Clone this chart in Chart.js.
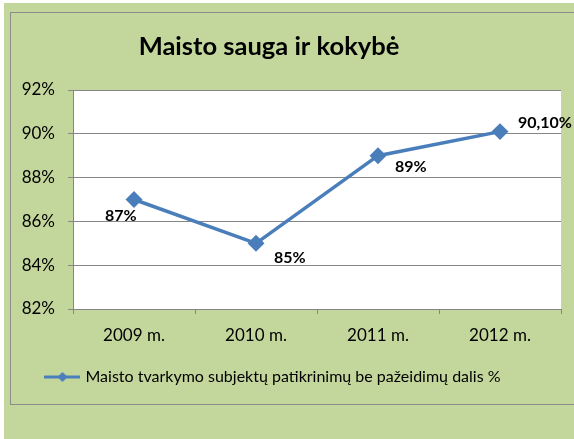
<!DOCTYPE html>
<html>
<head>
<meta charset="utf-8">
<script src="https://cdn.jsdelivr.net/npm/chart.js@4"></script>
<style>
  html, body { margin: 0; padding: 0; background: #ffffff; width: 574px; height: 439px; overflow: hidden; position: relative; }
  #bg { position: absolute; left: 4px; top: 3px; width: 570px; height: 436px; background: #c3d69b; }
  #frame { position: absolute; left: 10px; top: 12px; width: 564px; height: 393px; border: 1px solid #8c8c8c; border-right: none; box-sizing: border-box; }
  #clip { position: absolute; left: 0; top: 0; width: 574px; height: 439px; overflow: hidden; }
  #wrap { position: absolute; left: 0; top: 0; width: 574px; height: 439px; }
</style>
</head>
<body>
<div id="clip"><div id="bg"></div><div id="frame"></div></div>
<div id="wrap"><canvas id="c" width="574" height="439"></canvas></div>
<script>
const categories = ['2009 m.', '2010 m.', '2011 m.', '2012 m.'];
const values = [87, 85, 89, 90.1];
const valueLabels = ['87%', '85%', '89%', '90,10%'];
const yTicks = [82, 84, 86, 88, 90, 92];
const seriesName = 'Maisto tvarkymo subjektų patikrinimų be pažeidimų dalis %';
const titleText = 'Maisto sauga ir kokybė';

const BLUE = '#4a7ebb';
const GRID = '#868686';
const FONT = 'Lato, "Open Sans", sans-serif';

// legend marker: line with a diamond
const marker = document.createElement('canvas');
marker.width = 36; marker.height = 12;
(function () {
  const m = marker.getContext('2d');
  m.strokeStyle = BLUE; m.lineWidth = 3; m.lineCap = 'round';
  m.beginPath(); m.moveTo(1, 6); m.lineTo(35, 6); m.stroke();
  m.fillStyle = BLUE;
  m.beginPath(); m.moveTo(18, 1); m.lineTo(23, 6); m.lineTo(18, 11); m.lineTo(13, 6); m.closePath(); m.fill();
})();

const plotBg = {
  id: 'plotBg',
  beforeDraw(chart) {
    const a = chart.chartArea, ctx = chart.ctx;
    ctx.save(); ctx.fillStyle = '#ffffff';
    ctx.fillRect(a.left, a.top, a.right - a.left, a.bottom - a.top);
    ctx.restore();
  }
};

const shiftBlocks = {
  id: 'shiftBlocks',
  afterLayout(chart) {
    const centres = [[chart.titleBlock, 269], [chart.legend, 274]];
    centres.forEach(([b, centre]) => {
      if (!b) return;
      const w = b.right - b.left;
      b.left = centre - w / 2; b.right = centre + w / 2;
    });
  }
};

// label placement (dx, dy) relative to each point
const labelPlace = [[-29, 16], [18, 15], [17, 11], [18, -9]];
const dataLabels = {
  id: 'dataLabels',
  afterDatasetsDraw(chart) {
    const ctx = chart.ctx;
    const meta = chart.getDatasetMeta(0);
    ctx.save();
    ctx.font = 'bold 16px ' + FONT;
    ctx.fillStyle = '#000000';
    ctx.textAlign = 'left';
    ctx.textBaseline = 'middle';
    meta.data.forEach((pt, i) => {
      const p = labelPlace[i];
      ctx.fillText(valueLabels[i], pt.x + p[0], pt.y + p[1]);
    });
    ctx.restore();
  }
};

new Chart(document.getElementById('c'), {
  type: 'line',
  data: {
    labels: categories,
    datasets: [{
      label: seriesName,
      data: values,
      borderColor: BLUE,
      backgroundColor: BLUE,
      borderWidth: 3.5,
      pointStyle: 'rectRot',
      pointRadius: 6,
      pointHoverRadius: 6,
      tension: 0,
      fill: false
    }]
  },
  options: {
    responsive: false,
    animation: false,
    layout: { padding: { left: 14, right: 13, top: 0, bottom: 44 } },
    plugins: {
      tooltip: { enabled: false },
      title: {
        display: true,
        text: titleText,
        color: '#000000',
        font: { family: FONT, size: 25.5, weight: 'bold', lineHeight: 1.2 },
        padding: { top: 31.5, bottom: 27.9 }
      },
      legend: {
        display: true,
        position: 'bottom',
        labels: {
          color: '#000000',
          font: { family: FONT, size: 16 },
          usePointStyle: true,
          pointStyleWidth: 30,
          padding: 10,
          generateLabels(chart) {
            return [{
              text: seriesName,
              pointStyle: marker,
              fillStyle: BLUE,
              strokeStyle: BLUE,
              lineWidth: 0,
              hidden: false,
              datasetIndex: 0
            }];
          }
        }
      }
    },
    scales: {
      x: {
        type: 'category',
        offset: true,
        afterFit(s) { s.height = 50; },
        grid: { offset: true, drawOnChartArea: false, drawTicks: true, tickLength: 5, color: GRID },
        border: { color: GRID, width: 1 },
        ticks: { color: '#000000', font: { family: FONT, size: 17 }, padding: 11, maxRotation: 0 }
      },
      y: {
        min: 82, max: 92,
        afterFit(s) { s.width = 59; },
        afterBuildTicks(s) { s.ticks = yTicks.map(v => ({ value: v })); },
        grid: { color: GRID, tickLength: 5, drawTicks: true },
        border: { color: GRID, width: 1 },
        ticks: {
          color: '#000000',
          font: { family: FONT, size: 17 },
          padding: 13,
          callback: v => v + '%'
        }
      }
    }
  },
  plugins: [plotBg, shiftBlocks, dataLabels]
});
</script>
</body>
</html>
